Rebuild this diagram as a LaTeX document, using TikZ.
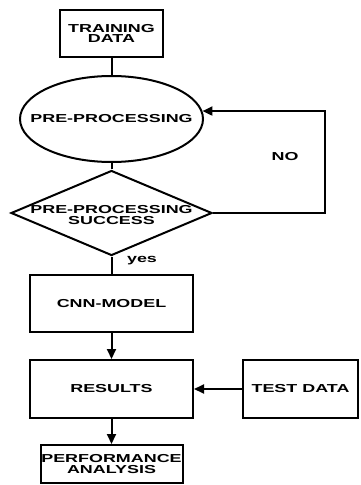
\documentclass[tikz,border=0pt]{standalone}
\usepackage{fontspec}
\newfontfamily\flowfont{Liberation Sans}[FakeStretch=1.55]
\usetikzlibrary{shapes.geometric,arrows.meta}

\begin{document}
\begin{tikzpicture}[x=1bp, y=-1bp, line width=2bp,
    >={Triangle[length=10bp,width=9bp]},
    box/.style={draw, rectangle, inner sep=0pt},
    txt/.style={font=\flowfont\bfseries\fontsize{11.6}{10.5}\selectfont, align=center, inner sep=0pt}]
    \useasboundingbox (0,0) rectangle (360,485);

    % Blocks
    \node[box, txt, minimum width=103bp, minimum height=47bp] (train) at (111.5,33.5) {TRAINING\\DATA};
    \node[draw, ellipse, minimum width=183bp, minimum height=86bp] (pre) at (111.5,119) {};
    \node[txt] (pretext) at (pre) {PRE-PROCESSING};
    \node[draw, diamond, minimum width=201bp, minimum height=85bp, inner sep=0pt] (succ) at (111.5,213) {};
    \node[txt] (succtext) at (111.5,215) {PRE-PROCESSING\\SUCCESS};
    \node[box, txt, minimum width=163bp, minimum height=57bp] (cnn) at (111.5,303.5) {CNN-MODEL};
    \node[box, txt, minimum width=163bp, minimum height=58bp] (res) at (111.5,389) {RESULTS};
    \node[box, txt, minimum width=115bp, minimum height=58bp] (test) at (300.5,389) {TEST DATA};
    \node[box, txt, minimum width=142bp, minimum height=38bp] (perf) at (111.5,464) {PERFORMANCE\\ANALYSIS};

    % Links
    \draw (train) -- (pre);
    \draw (pre) -- (succ);
    \coordinate (turn) at (325,213);
    \draw[->] (succ.east) -- (turn) |- (pre.5);
    \node[txt] (no) at (285,157) {NO};
    \draw (succ) -- (cnn);
    \node[txt] (yes) at (142,261) {yes};
    \draw[->] (cnn) -- (res);
    \draw[->] (test) -- (res);
    \draw[->] (res) -- (perf);
\end{tikzpicture}
\end{document}
